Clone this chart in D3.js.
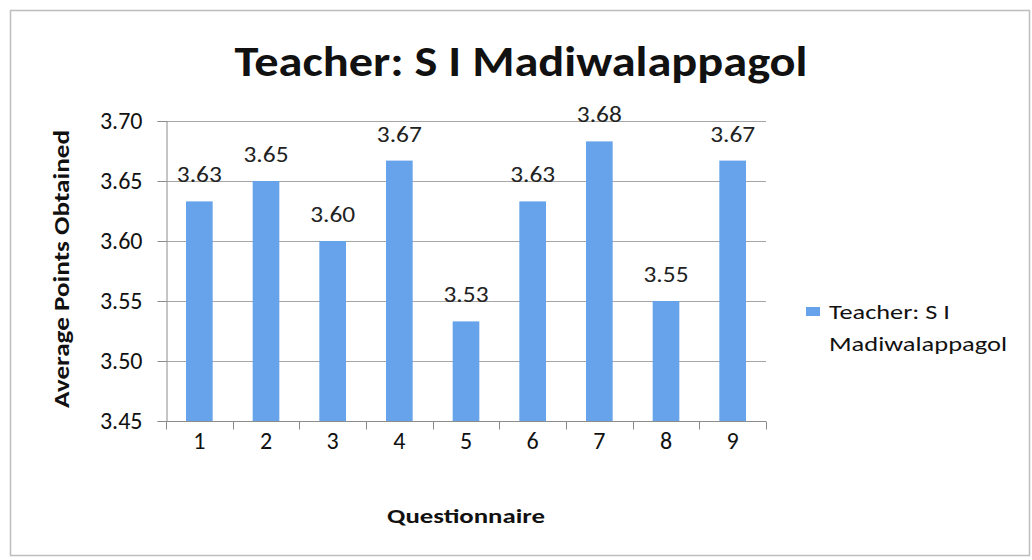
<!DOCTYPE html>
<html>
<head>
<meta charset="utf-8">
<script src="https://cdn.jsdelivr.net/npm/d3@7"></script>
<style>
  body { margin: 0; background: #fff; }
  text { font-family: Carlito, Calibri, Lato, sans-serif; }
</style>
</head>
<body>
<div id="d3-container"></div>
<script>
// chart data
let questions = ['1', '2', '3', '4', '5', '6', '7', '8', '9'];
let avgPoints = [3.633, 3.65, 3.6, 3.667, 3.533, 3.633, 3.683, 3.55, 3.667];
let yTicks = [3.45, 3.5, 3.55, 3.6, 3.65, 3.7];
let seriesName = 'Teacher: S I Madiwalappagol';

let W = 1032, H = 560;
let margin = { top: 121, left: 166, right: 266, bottom: 139 },
  width = W - margin.left - margin.right,
  height = H - margin.top - margin.bottom;

let svg = d3
  .select('#d3-container')
  .append('svg')
  .attr('width', W)
  .attr('height', H);

// outer frame
svg.append('rect')
  .attr('x', 10.5).attr('y', 10.5)
  .attr('width', 1019).attr('height', 545)
  .attr('fill', 'none')
  .attr('stroke', '#bdbdbd')
  .attr('stroke-width', 1.5);

let xScale = d3.scaleBand().domain(questions).range([0, width]).paddingInner(0.6).paddingOuter(0.3);
let yScale = d3.scaleLinear().domain([3.45, 3.7]).range([height, 0]);

let g = svg.append('g').attr('transform', 'translate(' + margin.left + ',' + margin.top + ')');

// gridlines
g.selectAll('.grid')
  .data(yTicks.slice(1))
  .enter()
  .append('line')
  .attr('x1', 0).attr('x2', width)
  .attr('y1', d => Math.round(yScale(d)) + 0.5)
  .attr('y2', d => Math.round(yScale(d)) + 0.5)
  .attr('stroke', '#a6a6a6');

// bars
g.selectAll('.bar')
  .data(avgPoints)
  .enter()
  .append('rect')
  .attr('class', 'bar')
  .attr('x', (d, i) => xScale(questions[i]))
  .attr('y', d => yScale(d))
  .attr('width', xScale.bandwidth())
  .attr('height', d => height - yScale(d))
  .attr('fill', '#66a3ea');

// value labels
g.selectAll('.lbl')
  .data(avgPoints)
  .enter()
  .append('text')
  .attr('x', (d, i) => xScale(questions[i]) + xScale.bandwidth() / 2)
  .attr('y', d => yScale(d) - 19)
  .attr('text-anchor', 'middle')
  .attr('textLength', 45)
  .attr('lengthAdjust', 'spacingAndGlyphs')
  .style('font-size', '22px')
  .style('fill', '#222')
  .text(d => d.toFixed(2));

// y axis
let yAxis = g.append('g')
  .attr('transform', 'translate(0.5,0)')
  .call(d3.axisLeft(yScale).tickValues(yTicks).tickFormat(d3.format('.2f')).tickSize(9).tickPadding(15));
yAxis.selectAll('line, path').attr('stroke', '#8c8c8c');
yAxis.selectAll('text').style('font-size', '24px').style('fill', '#111').style('font-family', 'Carlito, Calibri, Lato, sans-serif');

// x axis with ticks between categories
let xAxis = g.append('g').attr('transform', 'translate(0,' + (height + 0.5) + ')');
xAxis.append('line').attr('x1', 0).attr('x2', width).attr('stroke', '#8c8c8c');
let step = width / questions.length;
xAxis.selectAll('.xt')
  .data(d3.range(questions.length + 1))
  .enter()
  .append('line')
  .attr('x1', d => Math.round(d * step) + 0.5)
  .attr('x2', d => Math.round(d * step) + 0.5)
  .attr('y1', 0).attr('y2', 8)
  .attr('stroke', '#8c8c8c');
xAxis.selectAll('.xl')
  .data(questions)
  .enter()
  .append('text')
  .attr('x', d => xScale(d) + xScale.bandwidth() / 2)
  .attr('y', 27)
  .style('font-size', '24px')
  .attr('text-anchor', 'middle')
  .style('fill', '#111')
  .text(d => d);

// titles
svg.append('text')
  .attr('x', 521).attr('y', 76)
  .attr('text-anchor', 'middle')
  .attr('textLength', 573)
  .attr('lengthAdjust', 'spacingAndGlyphs')
  .style('font-size', '43px')
  .style('font-weight', 'bold')
  .style('fill', '#111')
  .text(seriesName);

svg.append('text')
  .attr('x', 466).attr('y', 523)
  .attr('text-anchor', 'middle')
  .attr('textLength', 158)
  .attr('lengthAdjust', 'spacingAndGlyphs')
  .style('font-size', '21px')
  .style('font-weight', 'bold')
  .style('fill', '#111')
  .text('Questionnaire');

svg.append('text')
  .attr('transform', 'translate(69,269) rotate(-90)')
  .attr('text-anchor', 'middle')
  .attr('textLength', 278)
  .attr('lengthAdjust', 'spacingAndGlyphs')
  .style('font-size', '23px')
  .style('font-weight', 'bold')
  .style('fill', '#111')
  .text('Average Points Obtained');

// legend
let leg = svg.append('g').attr('transform', 'translate(806,307)');
leg.append('rect').attr('width', 14).attr('height', 9).attr('fill', '#66a3ea');
leg.append('text').attr('x', 23).attr('y', 12)
  .attr('textLength', 121).attr('lengthAdjust', 'spacingAndGlyphs')
  .style('font-size', '20px').style('fill', '#111')
  .text('Teacher: S I');
leg.append('text').attr('x', 23).attr('y', 44)
  .attr('textLength', 178).attr('lengthAdjust', 'spacingAndGlyphs')
  .style('font-size', '20px').style('fill', '#111')
  .text('Madiwalappagol');
</script>
</body>
</html>
